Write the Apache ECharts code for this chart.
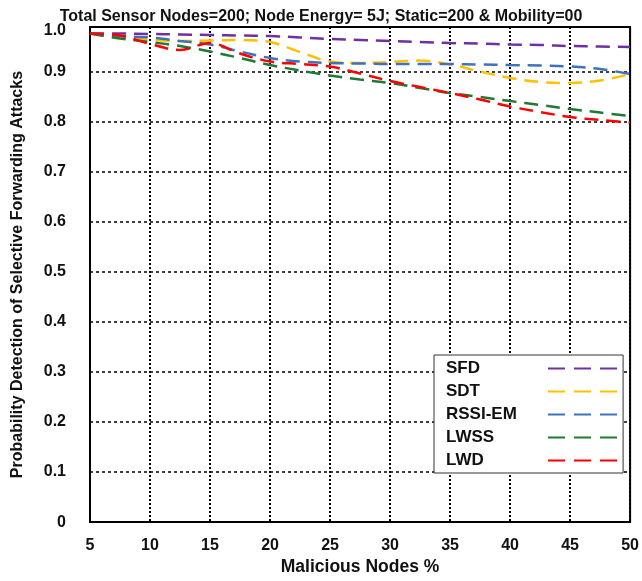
<!DOCTYPE html>
<html>
<head>
<meta charset="utf-8">
<script src="https://cdn.jsdelivr.net/npm/echarts@6/dist/echarts.min.js"></script>
<style>
  html, body { margin: 0; padding: 0; background: #fff; }
  #chart { width: 642px; height: 581px; }
</style>
</head>
<body>
<div id="chart"></div>
<script>
// Percentage of malicious nodes at which detection was measured
const maliciousPct = [5, 7.5, 10, 12.5, 15, 17.5, 20, 22.5, 25, 27.5, 30, 32.5, 35, 37.5, 40, 42.5, 45, 47.5, 50];

// Detection probability per scheme
const sfd    = [0.977, 0.977, 0.976, 0.975, 0.974, 0.973, 0.972, 0.969, 0.966, 0.964, 0.962, 0.960, 0.958, 0.957, 0.955, 0.954, 0.952, 0.951, 0.950];
const sdt    = [0.977, 0.970, 0.964, 0.962, 0.963, 0.964, 0.960, 0.940, 0.921, 0.918, 0.920, 0.923, 0.915, 0.901, 0.888, 0.880, 0.878, 0.883, 0.896];
const rssiEm = [0.977, 0.972, 0.969, 0.962, 0.955, 0.941, 0.928, 0.921, 0.918, 0.917, 0.916, 0.916, 0.916, 0.915, 0.914, 0.913, 0.911, 0.906, 0.896];
const lwss   = [0.977, 0.967, 0.960, 0.952, 0.941, 0.928, 0.914, 0.903, 0.893, 0.885, 0.878, 0.868, 0.858, 0.850, 0.842, 0.834, 0.826, 0.819, 0.812];
const lwd    = [0.977, 0.973, 0.956, 0.944, 0.958, 0.937, 0.921, 0.916, 0.911, 0.897, 0.882, 0.870, 0.858, 0.845, 0.831, 0.820, 0.810, 0.804, 0.799];

const seriesNames = ['SFD', 'SDT', 'RSSI-EM', 'LWSS', 'LWD'];
const seriesValues = [sfd, sdt, rssiEm, lwss, lwd];
const seriesColors = ['#7030A0', '#FFC000', '#3F72BC', '#1F7A35', '#FF0000'];

const FONT = '"Liberation Sans", Arial, sans-serif';

const chart = echarts.init(document.getElementById('chart'), null, { renderer: 'canvas' });

const series = seriesNames.map((name, i) => ({
  name,
  type: 'line',
  smooth: 0.35,
  symbol: 'none',
  data: maliciousPct.map((x, j) => [x, seriesValues[i][j]]),
  lineStyle: { color: seriesColors[i], width: 2.5, type: [14, 8] },
  itemStyle: { color: seriesColors[i] },
  z: 3
}));

chart.setOption({
  animation: false,
  backgroundColor: '#fff',
  title: {
    text: 'Total Sensor Nodes=200; Node Energy= 5J; Static=200 & Mobility=00',
    left: 'center',
    top: 4,
    textStyle: { fontFamily: FONT, fontWeight: 'bold', fontSize: 16, color: '#111' }
  },
  grid: {
    left: 90, right: 11, top: 27, bottom: 53,
    show: true, borderColor: '#000', borderWidth: 2, backgroundColor: 'transparent'
  },
  legend: {
    orient: 'vertical',
    left: 434,
    top: 355,
    align: 'right',
    itemWidth: 70,
    itemHeight: 14,
    itemGap: 6,
    padding: [5, 4, 4, 12],
    backgroundColor: '#fff',
    borderColor: '#333',
    borderWidth: 1,
    data: seriesNames,
    formatter: name => '{n|' + name + '}',
    textStyle: {
      fontFamily: FONT, fontWeight: 'bold', fontSize: 17, color: '#111',
      rich: { n: { width: 97, align: 'left', fontFamily: FONT, fontWeight: 'bold', fontSize: 17, color: '#111' } }
    },
    itemStyle: { opacity: 0 },
    lineStyle: { width: 2.2, type: [17, 9] }
  },
  xAxis: {
    type: 'value',
    min: 5, max: 50, interval: 5,
    name: 'Malicious Nodes %',
    nameLocation: 'middle',
    nameGap: 30,
    nameTextStyle: { fontFamily: FONT, fontWeight: 'bold', fontSize: 17.5, color: '#111' },
    axisLine: { show: true, lineStyle: { color: '#000', width: 2 } },
    axisTick: { show: false },
    axisLabel: { fontFamily: FONT, fontWeight: 'bold', fontSize: 16, color: '#111', margin: 15 },
    splitLine: { show: true, lineStyle: { color: '#000', width: 2, type: [2, 2] } }
  },
  yAxis: {
    type: 'value',
    min: 0, max: 0.99, interval: 0.1,
    name: 'Probability Detection of Selective Forwarding Attacks',
    nameLocation: 'middle',
    nameGap: 64,
    nameTextStyle: { fontFamily: FONT, fontWeight: 'bold', fontSize: 16, color: '#111' },
    axisLine: { show: true, lineStyle: { color: '#000', width: 2 } },
    axisTick: { show: false },
    axisLabel: {
      fontFamily: FONT, fontWeight: 'bold', fontSize: 16, color: '#111', margin: 24,
      formatter: v => (v === 0 ? '0' : (v > 0.95 ? '{top|1.0}' : v.toFixed(1))),
      rich: { top: { fontFamily: FONT, fontWeight: 'bold', fontSize: 16, color: '#111', padding: [7, 0, 0, 0] } }
    },
    splitLine: { show: true, lineStyle: { color: '#000', width: 1.5, type: [3, 3] } }
  },
  series
});
</script>
</body>
</html>
